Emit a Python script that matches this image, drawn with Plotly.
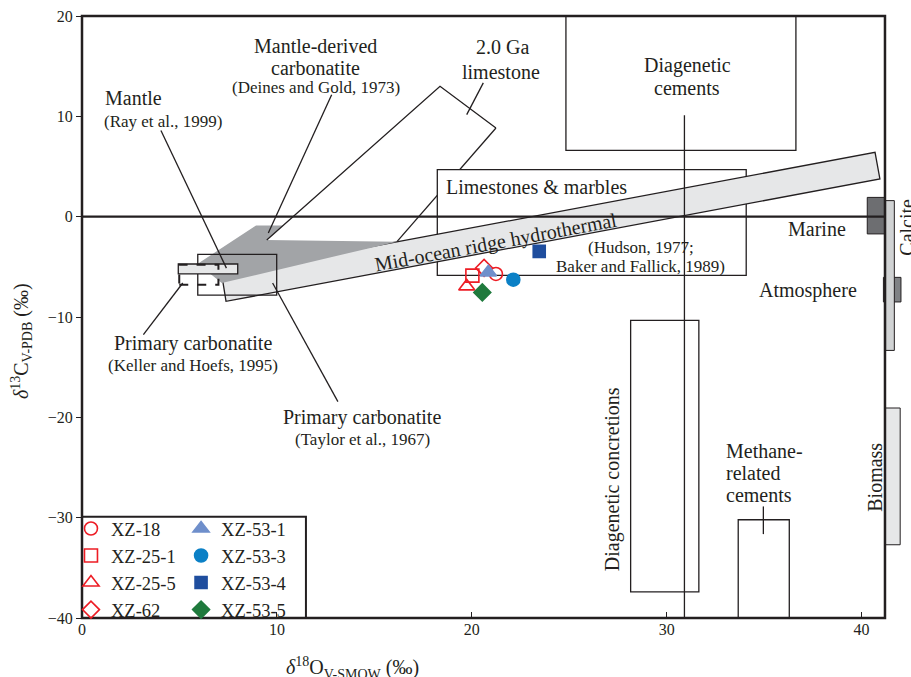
import plotly.graph_objects as go

# ---------------- data ----------------
samples = ["XZ-18", "XZ-25-1", "XZ-25-5", "XZ-62", "XZ-53-1", "XZ-53-3", "XZ-53-4", "XZ-53-5"]
d18O = [21.24, 20.03, 19.74, 20.63, 20.85, 22.13, 23.46, 20.54]
d13C = [-5.71, -5.88, -6.95, -5.11, -5.55, -6.28, -3.46, -7.55]

# literature fields (x = d18O, y = d13C)
band_x = [7.39, 7.17, 40.69, 40.94]            # mid-ocean ridge hydrothermal
band_y = [-8.44, -5.78, 6.41, 3.76]
deines_x = [5.94, 8.93, 10.32, 9.48, 16.16, 7.17]   # mantle-derived carbonatite
deines_y = [-4.69, -0.87, -0.87, -2.32, -2.49, -6.61]
ga_x = [9.48, 18.37, 21.24, 16.16]             # 2.0 Ga limestone
ga_y = [-2.32, 12.99, 8.84, -2.49]
limestone_x = [18.23, 34.08]
limestone_y = [-5.85, 4.69]
cements_x = [24.83, 36.63]
cements_y = [6.61, 20.0]
concretion_x = [28.15, 31.65]
concretion_y = [-37.39, -10.34]
methane_x = [33.67, 36.29]
methane_y = [-40.0, -30.21]
mantle_x = [4.94, 7.99]
mantle_y = [-5.71, -4.72]
keller_x = [4.99, 7.0]
keller_y = [-6.78, -4.79]
taylor_x = [5.94, 9.99]
taylor_y = [-7.81, -3.76]
marine_x = [40.29, 41.2]
marine_y = [-1.72, 1.92]
calcite_x = [41.23, 41.68]
calcite_y = [-13.33, 1.6]
atmos_x = [41.12, 42.02]
atmos_y = [-8.5, -6.05]
biomass_x = [41.2, 41.98]
biomass_y = [-32.7, -19.07]

# leader lines: (x0, y0, x1, y1)
leaders = [
    (4.05, 8.58, 7.41, -5.13),      # Mantle
    (12.81, 12.16, 9.56, -1.63),    # Deines and Gold
    (20.59, 13.33, 19.74, 10.17),   # 2.0 Ga limestone
    (30.91, 10.1, 30.91, -40.0),    # Diagenetic cements
    (3.15, -11.76, 5.17, -6.61),    # Keller and Hoefs
    (9.78, -6.61, 13.13, -18.44),   # Taylor et al.
    (34.96, -28.88, 34.96, -31.64), # Methane-related cements
]

x_ticks = [0, 10, 20, 30, 40]
y_ticks = [-40, -30, -20, -10, 0, 10, 20]
X_MAX = 42.535
FRAME_X = 41.2
Y_MIN, Y_MAX = -40, 20

# ---------------- styles ----------------
INK = "#231f20"
SERIF = "Liberation Serif, Times New Roman, serif"
LIGHT = "#e6e7e8"
MID = "#a2a4a7"
DARK = "#6d6e71"
RED = "#ed1c24"

styles = {
    "XZ-18": dict(symbol="circle-open", color=RED, size=13, legend="legend"),
    "XZ-25-1": dict(symbol="square-open", color=RED, size=13, legend="legend"),
    "XZ-25-5": dict(symbol="triangle-up-open", color=RED, size=14, legend="legend"),
    "XZ-62": dict(symbol="diamond-open", color=RED, size=13, legend="legend"),
    "XZ-53-1": dict(symbol="triangle-up", color="#6f8fcb", size=14, legend="legend2"),
    "XZ-53-3": dict(symbol="circle", color="#0b80c6", size=13, legend="legend2"),
    "XZ-53-4": dict(symbol="square", color="#1f4e9e", size=12, legend="legend2"),
    "XZ-53-5": dict(symbol="diamond", color="#1f7a3d", size=13, legend="legend2"),
}

fig = go.Figure()
for name, xv, yv in zip(samples, d18O, d13C):
    st = styles[name]
    fig.add_trace(go.Scatter(
        x=[xv], y=[yv], mode="markers", name=name, legend=st["legend"],
        marker=dict(symbol=st["symbol"], color=st["color"], size=st["size"],
                    line=dict(color=st["color"], width=1.6)),
    ))

shapes = []


def rect(xs, ys, fill="rgba(0,0,0,0)", width=1.3, dash=None, layer="below", color=INK):
    shapes.append(dict(type="rect", xref="x", yref="y", x0=xs[0], x1=xs[1], y0=ys[0], y1=ys[1],
                       fillcolor=fill, layer=layer,
                       line=dict(color=color, width=width, dash=dash)))


def path(xs, ys, fill="rgba(0,0,0,0)", width=1.3, closed=True, color=INK):
    p = "M " + " L ".join(f"{a},{b}" for a, b in zip(xs, ys)) + (" Z" if closed else "")
    shapes.append(dict(type="path", xref="x", yref="y", path=p, fillcolor=fill, layer="below",
                       line=dict(color=color, width=width)))


def seg(x0, y0, x1, y1, width=1.3, color=INK):
    shapes.append(dict(type="line", xref="x", yref="y", x0=x0, y0=y0, x1=x1, y1=y1, layer="below",
                       line=dict(color=color, width=width)))


rect(cements_x, cements_y)
rect(concretion_x, concretion_y)
rect(methane_x, methane_y)
seg(ga_x[2], ga_y[2], ga_x[3], ga_y[3])
rect(limestone_x, limestone_y, fill="white")
path(band_x, band_y, fill=LIGHT)
path(deines_x, deines_y, fill=MID, width=0)
path(ga_x[:3], ga_y[:3], closed=False)
rect(taylor_x, taylor_y)
rect(mantle_x, mantle_y, fill=LIGHT)
rect(keller_x, keller_y, width=2, dash="dash")
rect(atmos_x, atmos_y, fill="#808285", width=1)
rect(calcite_x, calcite_y, fill="#d1d3d4", width=1)
rect(biomass_x, biomass_y, fill=LIGHT, width=1)
rect(marine_x, marine_y, fill=DARK, width=1)
seg(0, 0, FRAME_X, 0, width=2.2)
for l in leaders:
    seg(*l)
# legend frame
rect([0, 11.49], [Y_MIN, -29.9], fill="white", width=2)
# plot frame
shapes.append(dict(type="rect", xref="paper", yref="paper", x0=0, x1=FRAME_X / X_MAX, y0=0, y1=1,
                   line=dict(color=INK, width=2.5), fillcolor="rgba(0,0,0,0)", layer="above"))

annotations = []


def ann(text, x, y, size=20, xanchor="center", angle=0, xref="x", yref="y"):
    annotations.append(dict(text=text, x=x, y=y, xref=xref, yref=yref, showarrow=False,
                            xanchor=xanchor, yanchor="middle", textangle=angle,
                            font=dict(family=SERIF, size=size, color=INK)))


ann("Mantle-derived", 12.0, 16.98)
ann("carbonatite", 12.0, 14.83)
ann("(Deines and Gold, 1973)", 12.0, 12.83, size=17)
ann("2.0 Ga", 21.6, 16.95)
ann("limestone", 21.5, 14.46)
ann("Diagenetic", 31.05, 15.08)
ann("cements", 31.05, 12.83)
ann("Mantle", 1.06, 11.83, xanchor="left")
ann("(Ray et al., 1999)", 1.01, 9.5, size=17, xanchor="left")
ann("Limestones &amp; marbles", 18.57, 2.96, xanchor="left")
ann("(Hudson, 1977;", 28.67, -3.12, size=17)
ann("Baker and Fallick, 1989)", 28.67, -4.96, size=17)
ann("Mid-ocean ridge hydrothermal", 21.24, -2.59, angle=-10.6)
ann("Marine", 37.7, -1.23)
ann("Atmosphere", 37.27, -7.35)
ann("Calcite", 42.33, -1.1, angle=-90)
ann("Biomass", 40.69, -26.02, angle=-90)
ann("Primary carbonatite", 5.70, -12.66)
ann("(Keller and Hoefs, 1995)", 5.67, -14.83, size=17)
ann("Primary carbonatite", 14.37, -20.04)
ann("(Taylor et al., 1967)", 14.37, -22.23, size=17)
ann("Diagenetic concretions", 27.22, -26.22, angle=-90)
ann("Methane-", 32.94, -23.4, xanchor="left")
ann("related", 32.94, -25.55, xanchor="left")
ann("cements", 32.94, -27.72, xanchor="left")
# axis titles
ann("<i>δ</i><sup>13</sup>C<sub>V-PDB</sub> (‰)", -0.0724, 0.460, size=20, angle=-90,
    xref="paper", yref="paper")
ann("<i>δ</i><sup>18</sup>O<sub>V-SMOW</sub> (‰)", 0.326, -0.083, size=20,
    xref="paper", yref="paper")

legend_font = dict(family=SERIF, size=18.5, color=INK)
fig.update_layout(
    width=911, height=677,
    margin=dict(l=82, r=0, t=16, b=59),
    paper_bgcolor="white", plot_bgcolor="white",
    font=dict(family=SERIF, size=16, color=INK),
    xaxis=dict(range=[0, X_MAX], tickvals=x_ticks, ticks="inside", ticklen=6, tickwidth=1.3,
               tickcolor=INK, showgrid=False, zeroline=False, showline=False,
               tickfont=dict(family=SERIF, size=16, color=INK)),
    yaxis=dict(range=[Y_MIN, Y_MAX], tickvals=y_ticks, ticks="outside", ticklen=5, tickwidth=1.3,
               tickcolor=INK, showgrid=False, zeroline=False, showline=False,
               tickfont=dict(family=SERIF, size=16, color=INK)),
    shapes=shapes,
    annotations=annotations,
    showlegend=True,
    legend=dict(x=-0.0133, xanchor="left", y=0.1795, yanchor="top", bgcolor="rgba(0,0,0,0)",
                borderwidth=0, font=legend_font, tracegroupgap=0),
    legend2=dict(x=0.1195, xanchor="left", y=0.1795, yanchor="top", bgcolor="rgba(0,0,0,0)",
                 borderwidth=0, font=legend_font, tracegroupgap=0),
)

fig.write_html("out.html")
